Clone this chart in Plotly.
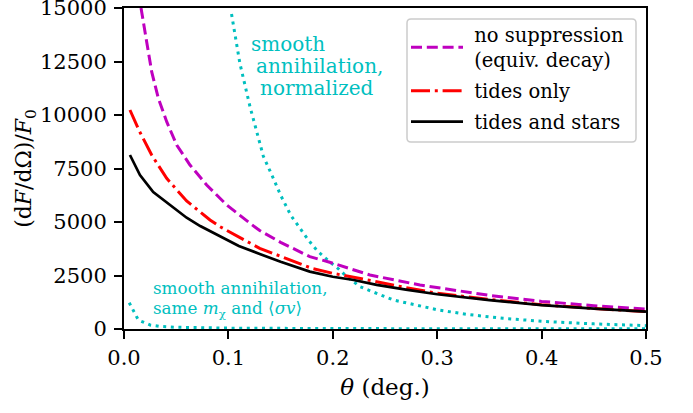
import plotly.graph_objects as go

# ---- data ----
theta_nosup = [0.0163, 0.0211, 0.0265, 0.0329, 0.0409, 0.0505, 0.0632, 0.0792, 0.0984, 0.1207,
               0.130, 0.150, 0.178, 0.197, 0.226, 0.2356, 0.2835, 0.312, 0.350, 0.400, 0.450, 0.500]
flux_nosup = [15000, 13584, 12024, 10780, 9687, 8598, 7664, 6729, 5794, 4939,
              4600, 4050, 3380, 3120, 2678, 2523, 2056, 1860, 1570, 1290, 1090, 930]

theta_tides = [0.0057, 0.0147, 0.0265, 0.0409, 0.060, 0.0824, 0.092, 0.1207,
               0.130, 0.150, 0.180, 0.200, 0.226, 0.242, 0.270, 0.300, 0.350, 0.400, 0.450, 0.500]
flux_tides = [10234, 9252, 8131, 7041, 5981, 5093, 4780, 4005,
              3770, 3400, 2830, 2600, 2367, 2211, 1930, 1670, 1380, 1135, 960, 815]

theta_stars = [0.0057, 0.0153, 0.028, 0.044, 0.060, 0.073, 0.092, 0.110,
               0.130, 0.150, 0.178, 0.200, 0.220, 0.242, 0.270, 0.300, 0.350, 0.400, 0.450, 0.500]
flux_stars = [8131, 7196, 6400, 5794, 5200, 4810, 4313, 3880,
              3505, 3140, 2680, 2440, 2290, 2060, 1840, 1625, 1350, 1120, 950, 810]

theta_smooth_norm = [0.103, 0.111, 0.1207, 0.1334, 0.142, 0.1504, 0.160, 0.168, 0.1766, 0.185,
                     0.1957, 0.206, 0.2117, 0.226, 0.258, 0.287, 0.300, 0.328, 0.363, 0.400,
                     0.450, 0.500]
flux_smooth_norm = [14720, 12415, 10388, 8084, 7150, 6215, 5294, 4733, 4159, 3659,
                    3192, 2790, 2523, 1977, 1355, 1042, 900, 687, 500, 360,
                    240, 156]

theta_smooth_same = [0.005, 0.0137, 0.025, 0.0345, 0.050, 0.100, 0.200, 0.300, 0.400, 0.500]
flux_smooth_same = [1230, 420, 187, 120, 80, 40, 20, 12, 8, 6]

x_tick_vals = [0.0, 0.1, 0.2, 0.3, 0.4, 0.5]
x_tick_text = ["0.0", "0.1", "0.2", "0.3", "0.4", "0.5"]
y_tick_vals = [0, 2500, 5000, 7500, 10000, 12500, 15000]
y_tick_text = ["0", "2500", "5000", "7500", "10000", "12500", "15000"]

FONT = "DejaVu Serif"
MAGENTA = "#BF00BF"
RED = "#FF0000"
CYAN = "#00BFBF"
NB = "\u00a0"

fig = go.Figure()
fig.add_trace(go.Scatter(x=theta_smooth_norm, y=flux_smooth_norm, mode="lines", showlegend=False,
                         line=dict(color=CYAN, width=3, dash="3px,4.6px")))
fig.add_trace(go.Scatter(x=theta_smooth_same, y=flux_smooth_same, mode="lines", showlegend=False,
                         line=dict(color=CYAN, width=3, dash="3px,4.6px")))
fig.add_trace(go.Scatter(x=theta_nosup, y=flux_nosup, mode="lines", legendgroup="a",
                         name=NB + "no suppression<br>" + NB + "(equiv. decay)",
                         line=dict(color=MAGENTA, width=3, dash="11px,4.8px")))
fig.add_trace(go.Scatter(x=theta_tides, y=flux_tides, mode="lines", legendgroup="b",
                         name=NB + "tides only",
                         line=dict(color=RED, width=3, dash="19px,4.8px,3px,4.8px")))
fig.add_trace(go.Scatter(x=theta_stars, y=flux_stars, mode="lines", legendgroup="c",
                         name=NB + "tides and stars",
                         line=dict(color="black", width=2.7)))

axis_common = dict(showline=True, linecolor="black", linewidth=2, mirror=True,
                   ticks="outside", ticklen=8, tickwidth=2, tickcolor="black",
                   showgrid=False, zeroline=False, automargin=False,
                   ticklabeloverflow="allow",
                   tickfont=dict(family=FONT, size=21, color="black"))

# legend frame (pixel box converted to paper fractions), with rounded corners
L, R, T, B = (407 - 124) / 522, (636 - 124) / 522, (329 - 19) / 321, (329 - 142) / 321
rx, ry = 4 / 522, 4 / 321
frame_path = (f"M{L + rx},{T} L{R - rx},{T} Q{R},{T} {R},{T - ry} L{R},{B + ry} Q{R},{B} {R - rx},{B} "
              f"L{L + rx},{B} Q{L},{B} {L},{B + ry} L{L},{T - ry} Q{L},{T} {L + rx},{T} Z")

fig.update_layout(
    width=693, height=413,
    margin=dict(l=124, r=47, t=8, b=84),
    plot_bgcolor="white", paper_bgcolor="white",
    font=dict(family=FONT, color="black"),
    xaxis=dict(range=[0, 0.5], tickmode="array", tickvals=x_tick_vals, ticktext=x_tick_text,
               ticklabelstandoff=1,
               title=dict(text="<i>θ</i> (deg.)", font=dict(family=FONT, size=23), standoff=10),
               **axis_common),
    yaxis=dict(range=[0, 15000], tickmode="array", tickvals=y_tick_vals, ticktext=y_tick_text,
               ticklabelstandoff=3,
               title=dict(text="(d<i>F</i>/dΩ)/<i>F</i><sub>0</sub>", font=dict(family=FONT, size=22),
                          standoff=0),
               **axis_common),
    legend=dict(x=(406 - 124) / 522, y=0.977, xanchor="left", yanchor="top",
                bgcolor="rgba(0,0,0,0)", borderwidth=0,
                font=dict(family=FONT, size=19.5, color="black"),
                itemwidth=52, tracegroupgap=2.5),
    shapes=[dict(type="path", xref="paper", yref="paper", path=frame_path,
                 line=dict(color="#cccccc", width=1.5), fillcolor="rgba(255,255,255,0.8)",
                 layer="above")],
)

annos = [
    ("smooth", 0.1197, 13318, 20),
    ("annihilation,", 0.1245, 12290, 20),
    ("normalized", 0.1284, 11262, 20),
    ("smooth annihilation,", 0.0256, 1920, 16.8),
    ("same <i>m</i><sub>χ</sub> and ⟨<i>σv</i>⟩", 0.0256, 930, 16.8),
]
for txt, ax, ay, sz in annos:
    fig.add_annotation(x=ax, y=ay, xref="x", yref="y", text=txt, showarrow=False,
                       xanchor="left", yanchor="middle",
                       font=dict(family=FONT, size=sz, color=CYAN))

fig.write_html("out.html", config={"displayModeBar": False},
               post_script="document.body.style.margin='0px';")
